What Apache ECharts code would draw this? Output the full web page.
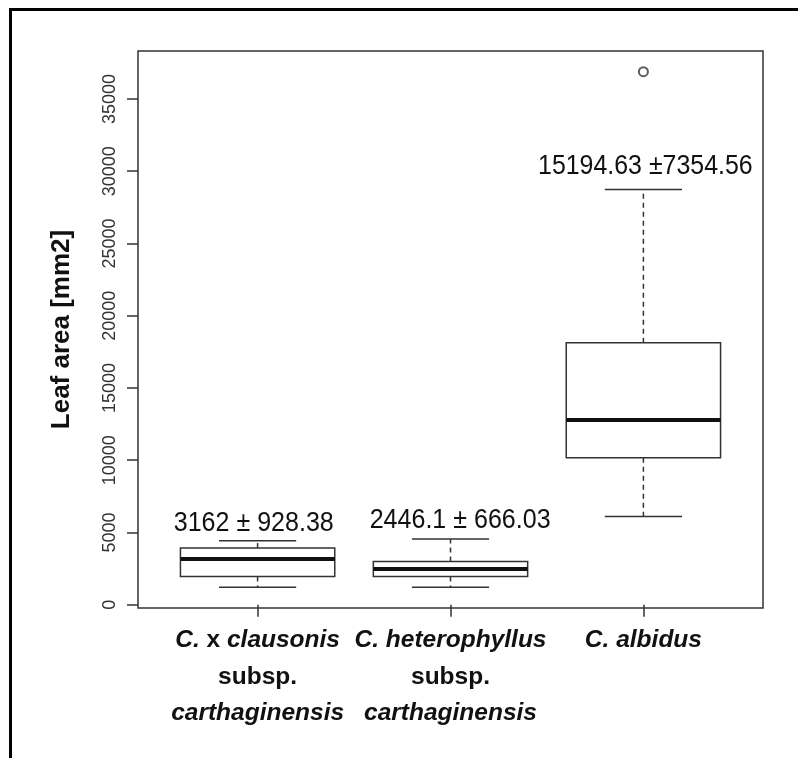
<!DOCTYPE html>
<html><head><meta charset="utf-8">
<script src="https://cdn.jsdelivr.net/npm/echarts@6/dist/echarts.min.js"></script>
<style>html,body{margin:0;padding:0;background:#fff}#c{width:798px;height:758px}</style>
</head><body><div id="c"></div>
<script>
// ---- data ----
const categoryLines = [
  ['C. x clausonis', 'subsp.', 'carthaginensis'],
  ['C. heterophyllus', 'subsp.', 'carthaginensis'],
  ['C. albidus']
];
const whiskerLow  = [1200, 1200, 6100];
const quartile1   = [1950, 1950, 10170];
const medians     = [3160, 2470, 12780];
const quartile3   = [3920, 2990, 18120];
const whiskerHigh = [4420, 4540, 28740];
const outlierCat  = [3];
const outlierVal  = [36890];
const meanSdLabels = ['3162 ± 928.38', '2446.1 ± 666.03', '15194.63 ±7354.56'];
const labelX = [0.98, 2.05, 3.01];
const labelY = [5660, 5870, 30360];
const yTicks = [0, 5000, 10000, 15000, 20000, 25000, 30000, 35000];
const xTicks = [1, 2, 3];
const yMin = -228, yMax = 38318;
const xMin = 0.38, xMax = 3.62;

// ---- build ----
const boxData = xTicks.map((x, i) => [x, whiskerLow[i], quartile1[i], medians[i], quartile3[i], whiskerHigh[i]]);
const annData = labelX.map((x, i) => [x, labelY[i], i]);
const LINE = '#333';
const FONT = 'Liberation Sans, Arial, sans-serif';
const plain = new Set(['x', 'subsp.']);
const annScale = [0.895, 0.895, 0.89];

function renderBox(params, api) {
  const x = api.value(0);
  const lo = api.coord([x, api.value(1)]);
  const q1 = api.coord([x, api.value(2)]);
  const md = api.coord([x, api.value(3)]);
  const q3 = api.coord([x, api.value(4)]);
  const hi = api.coord([x, api.value(5)]);
  const bw = api.size([0.8, 0])[0];
  const cw = api.size([0.4, 0])[0];
  const cx = lo[0];
  const solid = { stroke: LINE, lineWidth: 1.5, fill: null };
  const dash = { stroke: LINE, lineWidth: 1.5, lineDash: [5, 4], fill: null };
  return {
    type: 'group',
    children: [
      { type: 'line', shape: { x1: cx, y1: q3[1], x2: cx, y2: hi[1] }, style: dash },
      { type: 'line', shape: { x1: cx, y1: q1[1], x2: cx, y2: lo[1] }, style: dash },
      { type: 'line', shape: { x1: cx - cw / 2, y1: hi[1], x2: cx + cw / 2, y2: hi[1] }, style: solid },
      { type: 'line', shape: { x1: cx - cw / 2, y1: lo[1], x2: cx + cw / 2, y2: lo[1] }, style: solid },
      { type: 'rect', shape: { x: cx - bw / 2, y: q3[1], width: bw, height: q1[1] - q3[1] }, style: { stroke: LINE, lineWidth: 1.5, fill: '#fff' } },
      { type: 'line', shape: { x1: cx - bw / 2, y1: md[1], x2: cx + bw / 2, y2: md[1] }, style: { stroke: '#111', lineWidth: 4 } }
    ]
  };
}

function renderAnn(params, api) {
  const p = api.coord([api.value(0), api.value(1)]);
  const i = api.value(2);
  return {
    type: 'text', x: p[0], y: p[1], scaleX: annScale[i], scaleY: 1,
    style: {
      text: meanSdLabels[i], x: 0, y: 0, fill: '#111',
      fontSize: 28, fontFamily: FONT, align: 'center', verticalAlign: 'middle'
    }
  };
}

const richBase = { fontSize: 24.5, fontWeight: 'bold', color: '#111', lineHeight: 36.5, fontFamily: FONT };

const chart = echarts.init(document.getElementById('c'), null, { renderer: 'canvas' });
chart.setOption({
  animation: false,
  backgroundColor: '#fff',
  textStyle: { fontFamily: FONT },
  grid: { left: 138, right: 35, top: 51, bottom: 150, containLabel: false, show: true, borderColor: LINE, borderWidth: 1.5, backgroundColor: 'transparent' },
  xAxis: {
    type: 'value', min: xMin, max: xMax,
    splitLine: { show: false },
    axisLine: { show: false },
    axisTick: { show: true, customValues: xTicks, length: 12, inside: false, lineStyle: { color: LINE, width: 1.5 } },
    axisLabel: {
      show: true, customValues: xTicks, margin: 14,
      fontSize: 24.5, fontWeight: 'bold', color: '#111', lineHeight: 36.5, fontFamily: FONT,
      formatter: function (val) {
        const i = Math.round(val) - 1;
        if (!categoryLines[i]) return '';
        return categoryLines[i].map(line => line.split(' ').map(w => plain.has(w) ? '{b|' + w + '}' : '{bi|' + w + '}').join(' ')).join('\n');
      },
      rich: {
        b: Object.assign({}, richBase),
        bi: Object.assign({}, richBase, { fontStyle: 'italic' })
      }
    }
  },
  yAxis: {
    type: 'value', min: yMin, max: yMax,
    splitLine: { show: false },
    axisLine: { show: false },
    axisTick: { show: true, customValues: yTicks, length: 11, inside: false, lineStyle: { color: LINE, width: 1.5 } },
    axisLabel: { show: true, customValues: yTicks, rotate: 90, margin: 19, fontSize: 18, color: '#333', fontFamily: FONT, formatter: v => String(v) },
    name: 'Leaf area [mm2]', nameLocation: 'middle', nameGap: 63, nameRotate: 90,
    nameTextStyle: { fontSize: 26, fontWeight: 'bold', color: '#111', fontFamily: FONT }
  },
  series: [
    { type: 'custom', renderItem: renderBox, data: boxData, silent: true, z: 3 },
    {
      type: 'scatter', silent: true, z: 4,
      data: outlierCat.map((c, i) => [c, outlierVal[i]]),
      symbol: 'emptyCircle', symbolSize: 9,
      itemStyle: { color: LINE, borderColor: LINE, borderWidth: 1.3 }
    },
    { type: 'custom', renderItem: renderAnn, data: annData, silent: true, z: 5, clip: false }
  ],
  graphic: [
    { type: 'rect', silent: true, z: 100, shape: { x: 10.5, y: 9.5, width: 900, height: 900 }, style: { fill: null, stroke: '#000', lineWidth: 3 } }
  ]
});
</script>
</body></html>
